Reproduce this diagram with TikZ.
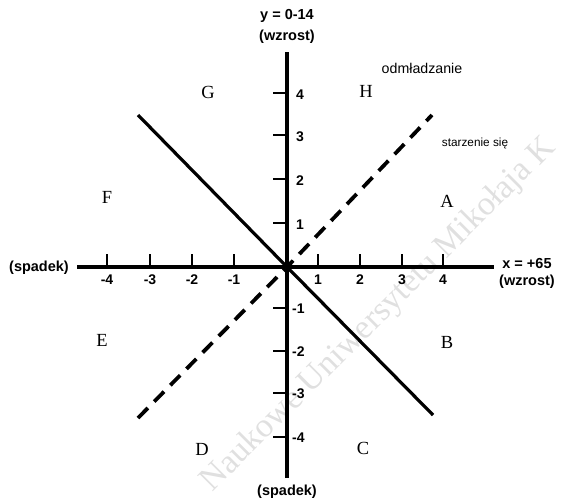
\documentclass[tikz,border=0pt]{standalone}
\usepackage{fontspec}
\setmainfont{Liberation Serif}
\setsansfont{Liberation Sans}
\begin{document}
\begin{tikzpicture}[x=1pt,y=-1pt,
  axis/.style={line width=3.2pt},
  tickmark/.style={line width=1.4pt},
  diag/.style={line width=3.2pt},
  dashdiag/.style={line width=3.8pt, dash pattern=on 14pt off 9pt},
  ticklab/.style={font=\sffamily\bfseries\fontsize{14}{14}\selectfont, inner sep=0pt},
  lab/.style={font=\sffamily\bfseries\fontsize{14.5}{14.5}\selectfont, inner sep=0pt},
  quad/.style={font=\rmfamily\fontsize{18.5}{18.5}\selectfont, inner sep=0pt},
  wmark/.style={font=\rmfamily\fontsize{34}{34}\selectfont, text=black!12, inner sep=0pt}]
\useasboundingbox (0,0) rectangle (561,499);
% watermark
\node[wmark, rotate=45] (wm) at (379,315) {Naukowe Uniwersytetu Mikołaja K};
% coordinates
\coordinate (O) at (287,267);
\coordinate (xl) at (77,267);
\coordinate (xr) at (494,267);
\coordinate (yt) at (287,52);
\coordinate (yb) at (287,478);
\coordinate (s1) at (138,115);
\coordinate (s2) at (433,415);
\coordinate (d1) at (138,418);
\coordinate (d2) at (432,115);
% axes
\draw[axis] (xl) -- (xr);
\draw[axis] (yb) -- (yt);
% x ticks
\foreach \v/\l/\i in {107/-4/1,150/-3/2,192/-2/3,234/-1/4,318/1/5,360/2/6,402/3/7,443/4/8}{
  \draw[tickmark] (\v,267) -- (\v,254);
  \node[ticklab] (xt\i) at (\v,280) {\l};
}
% y ticks
\foreach \v/\l/\i in {93/4/1,135/3/2,179/2/3,223/1/4}{
  \draw[tickmark] (273,\v) -- (287,\v);
  \node[ticklab, anchor=west] (ytp\i) at (296,\v+2) {\l};
}
\foreach \v/\l/\i in {308/-1/1,351/-2/2,393/-3/3,437/-4/4}{
  \draw[tickmark] (273,\v) -- (287,\v);
  \node[ticklab, anchor=west] (ytn\i) at (292,\v+1) {\l};
}
% diagonals
\draw[diag] (s1) -- (O) -- (s2);
\draw[dashdiag] (d1) -- (O) -- (d2);
% axis labels
\node[lab] (ytop1) at (287,16) {y = 0-14};
\node[lab] (ytop2) at (287,37) {(wzrost)};
\node[lab] (ybot) at (287,492) {(spadek)};
\node[lab] (xleft) at (39,268) {(spadek)};
\node[lab] (xr1) at (527,263) {x = +65};
\node[lab] (xr2) at (527,282) {(wzrost)};
\node[font=\sffamily\fontsize{14.2}{14.2}\selectfont, inner sep=0pt] (odm) at (422,68) {odmładzanie};
\node[font=\sffamily\fontsize{11.8}{11.8}\selectfont, inner sep=0pt] (sta) at (475,143) {starzenie się};
% sectors
\node[quad] (G) at (208,92) {G};
\node[quad] (H) at (366,91) {H};
\node[quad] (F) at (107,197) {F};
\node[quad] (A) at (447,201) {A};
\node[quad] (E) at (102,340) {E};
\node[quad] (B) at (447,342) {B};
\node[quad] (D) at (202,449) {D};
\node[quad] (C) at (363,448) {C};
\end{tikzpicture}
\end{document}
